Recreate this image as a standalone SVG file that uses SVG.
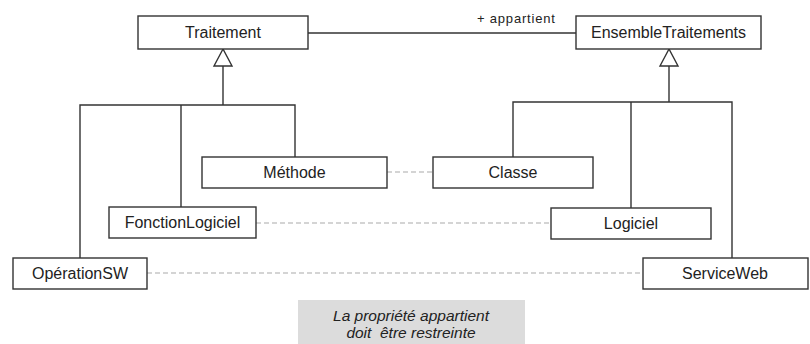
<svg xmlns="http://www.w3.org/2000/svg" width="810" height="344" viewBox="0 0 810 344">
<style>
.box{fill:#fff;stroke:#333;stroke-width:1.4}
.lbl{font-family:"Liberation Sans",Arial,sans-serif;font-size:16px;fill:#222;text-anchor:middle}
.ln{fill:none;stroke:#333;stroke-width:1.4}
.dash{fill:none;stroke:#aaa;stroke-width:1.2;stroke-dasharray:5,3}
.tri{fill:#fff;stroke:#333;stroke-width:1.4}
.small{font-family:"Liberation Sans",Arial,sans-serif;font-size:13px;fill:#222;letter-spacing:0.8px}
.note{font-family:"Liberation Sans",Arial,sans-serif;font-size:15.5px;font-style:italic;fill:#222;text-anchor:middle}
</style>
<rect width="810" height="344" fill="#fff"/>
<g id="connectors">
<line class="ln" x1="308" y1="33" x2="576" y2="33"/>
<text class="small" x="477" y="23">+ appartient</text>
<polyline class="ln" points="223,66 223,105"/>
<polyline class="ln" points="80,258 80,105 295,105 295,157"/>
<line class="ln" x1="181" y1="105" x2="181" y2="207"/>
<polygon class="tri" points="223,49 214,66 232,66"/>
<polyline class="ln" points="669,66 669,102"/>
<polyline class="ln" points="513,157 513,102 732,102 732,258"/>
<line class="ln" x1="631" y1="102" x2="631" y2="208"/>
<polygon class="tri" points="669,49 660,66 678,66"/>
<line class="dash" x1="387" y1="172" x2="433" y2="172"/>
<line class="dash" x1="256" y1="223" x2="551" y2="223"/>
<line class="dash" x1="147" y1="273" x2="643" y2="273"/>
</g>
<g id="traitement"><rect class="box" x="138" y="16" width="170" height="33"/><text class="lbl" x="223" y="38">Traitement</text></g>
<g id="ensemble"><rect class="box" x="576" y="16" width="185" height="33"/><text class="lbl" x="668.5" y="38">EnsembleTraitements</text></g>
<g id="methode"><rect class="box" x="202" y="157" width="185" height="31"/><text class="lbl" x="294.5" y="178">Méthode</text></g>
<g id="classe"><rect class="box" x="433" y="157" width="160" height="31"/><text class="lbl" x="513" y="178">Classe</text></g>
<g id="fonction"><rect class="box" x="109" y="207" width="147" height="31"/><text class="lbl" x="182.5" y="228">FonctionLogiciel</text></g>
<g id="logiciel"><rect class="box" x="551" y="208" width="160" height="31"/><text class="lbl" x="631" y="229">Logiciel</text></g>
<g id="operation"><rect class="box" x="13" y="258" width="134" height="31"/><text class="lbl" x="80" y="279">OpérationSW</text></g>
<g id="serviceweb"><rect class="box" x="643" y="258" width="165" height="31"/><text class="lbl" x="725" y="279">ServiceWeb</text></g>
<g id="note"><rect x="298" y="300" width="227" height="50" fill="#dcdcdc"/><text class="note" x="411" y="321">La propriété appartient</text><text class="note" x="411" y="338" xml:space="preserve">doit  être restreinte</text></g>
</svg>
